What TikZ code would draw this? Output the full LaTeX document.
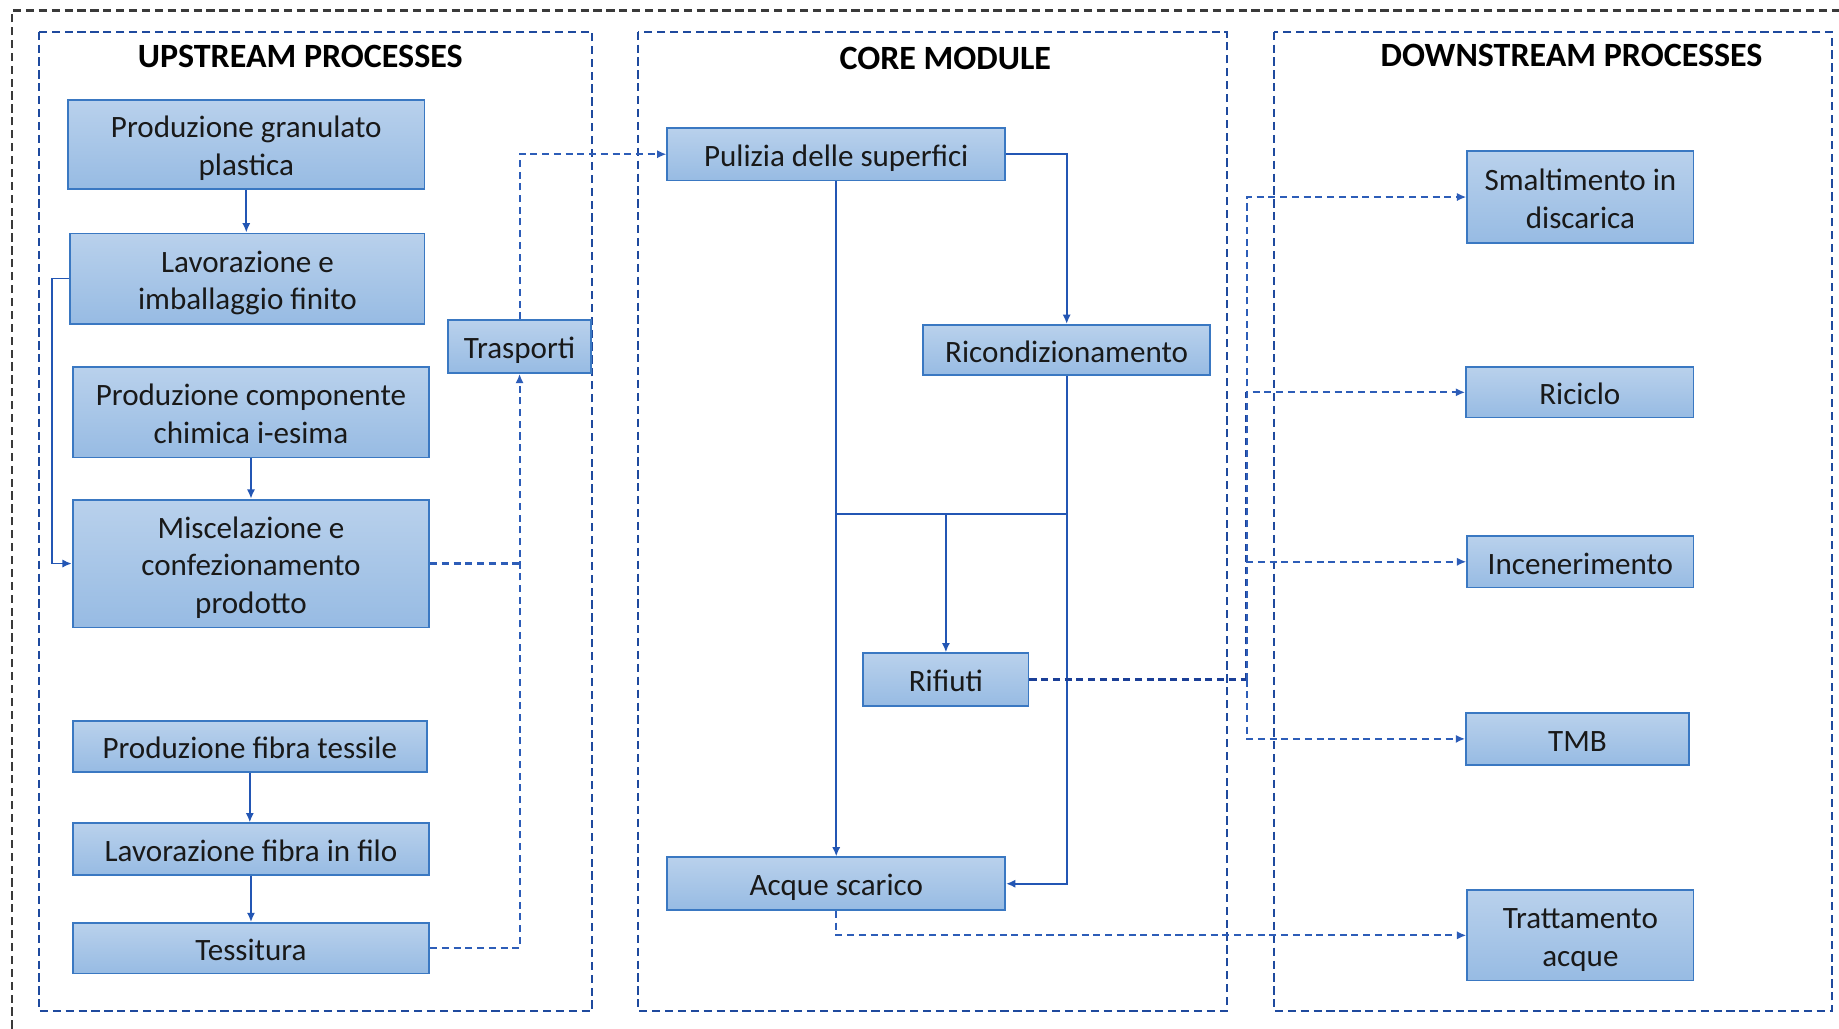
\documentclass[tikz,border=0pt]{standalone}
\usepackage{fontspec}
\setmainfont{Carlito}
\usetikzlibrary{arrows.meta}
\definecolor{boxtop}{HTML}{B9D1EC}
\definecolor{boxbot}{HTML}{97BBE3}
\definecolor{boxline}{HTML}{3A78C2}
\definecolor{lineblue}{HTML}{2356B4}
\definecolor{frameblue}{HTML}{1F4A9E}
\definecolor{dashblue}{HTML}{2D5DB8}
\definecolor{darkdash}{HTML}{1B3F97}
\definecolor{outergray}{HTML}{3A3A3A}
\newcommand\topstrut{\rule{0pt}{30.5pt}}
\newcommand\botstrut{\rule[-9.6pt]{0pt}{9.6pt}}
\begin{document}
\begin{tikzpicture}[x=1pt,y=-1pt,
  proc/.style={draw=boxline, line width=1.5pt, top color=boxtop, bottom color=boxbot,
    inner sep=0pt, align=center, text=black!90, font=\fontsize{26.5}{32}\selectfont,
    execute at begin node=\topstrut, execute at end node=\botstrut},
  ttl/.style={font=\fontsize{29}{34}\selectfont\bfseries, text=black},
  frame/.style={draw=frameblue, line width=1.8pt, dash pattern=on 7pt off 4pt},
  outerframe/.style={draw=outergray, line width=1.8pt, dash pattern=on 7pt off 4pt},
  conn/.style={draw=lineblue, line width=1.6pt},
  dconn/.style={draw=dashblue, line width=1.8pt, dash pattern=on 6pt off 4pt},
  arr/.style={-{Latex[length=8pt,width=7pt]}}
]
\useasboundingbox (0,0) rectangle (1568,877);
\fill[white] (0,0) rectangle (1568,877);

% frames
\draw[outerframe] (10,877) -- (10,9) -- (1568,9);
\draw[frame] (33,27) rectangle (505,862);
\draw[frame] (544,27) rectangle (1046,862);
\draw[frame] (1086,27) rectangle (1562,862);

\node[ttl] (t1) at (256,48) {UPSTREAM PROCESSES};
\node[ttl] (t2) at (806,50) {CORE MODULE};
\node[ttl] (t3) at (1340,47) {DOWNSTREAM PROCESSES};

% upstream
\node[proc, minimum width=304, minimum height=76] (pg) at (210,123) {\topstrut Produzione granulato\\plastica\botstrut};
\node[proc, minimum width=302, minimum height=77] (li) at (211,237.5) {\topstrut Lavorazione e\\imballaggio finito\botstrut};
\node[proc, minimum width=304, minimum height=77] (pc) at (214,351.5) {\topstrut Produzione componente\\chimica i-esima\botstrut};
\node[proc, minimum width=304, minimum height=109] (mc) at (214,480.5) {\topstrut Miscelazione e\\confezionamento\\prodotto\botstrut};
\node[proc, minimum width=302, minimum height=43] (pf) at (213,636.5) {Produzione fibra tessile};
\node[proc, minimum width=304, minimum height=44] (lf) at (214,724) {Lavorazione fibra in filo};
\node[proc, minimum width=304, minimum height=43] (te) at (214,808.5) {Tessitura};
\node[proc, minimum width=122, minimum height=45] (tr) at (443,295.5) {Trasporti};

% core
\node[proc, minimum width=288, minimum height=45] (pu) at (713,131.5) {Pulizia delle superfici};
\node[proc, minimum width=245, minimum height=43] (ri) at (909.5,298.5) {Ricondizionamento};
\node[proc, minimum width=141, minimum height=45] (rf) at (806.5,579.5) {Rifiuti};
\node[proc, minimum width=288, minimum height=45] (ac) at (713,753.5) {Acque scarico};

% downstream
\node[proc, minimum width=193, minimum height=78] (sm) at (1347.5,168) {\topstrut Smaltimento in\\discarica\botstrut};
\node[proc, minimum width=194, minimum height=43] (rc) at (1347,334.5) {Riciclo};
\node[proc, minimum width=193, minimum height=44] (ic) at (1347.5,479) {Incenerimento};
\node[proc, minimum width=190, minimum height=44] (tmb) at (1345,630) {TMB};
\node[proc, minimum width=193, minimum height=77] (tra) at (1347.5,797.5) {\topstrut Trattamento\\acque\botstrut};

% solid connectors
\draw[conn,arr] (pg.south) -- (pg.south |- li.north);
\draw[conn,arr] (li.west) -- ++(-15,0) |- (mc.west);
\draw[conn,arr] (pc.south) -- (mc.north);
\draw[conn,arr] (pf.south) -- (pf.south |- lf.north);
\draw[conn,arr] (lf.south) -- (te.north);
\draw[conn,arr] (pu.east) -| (ri.north);
\draw[conn,arr] (pu.south) -- (ac.north);
\coordinate (j1) at (713,438);
\coordinate (j2) at (909.5,438);
\draw[conn,arr] (j1) -| (rf.north);
\draw[conn] (j2) -- (j2 -| rf.north);
\draw[conn,arr] (ri.south) |- (ac.east);

% dashed connectors
\draw[dconn,arr] (te.east) -| (tr.south);
\draw[dconn] (mc.east) -- (mc.east -| tr.south);
\draw[dconn,arr] (tr.north) |- (pu.west);
\coordinate (bus) at (1063,579.5);
\draw[dconn, draw=darkdash, line width=2.6pt] (rf.east) -- (bus);
\draw[dconn, draw=darkdash, line width=2.4pt] (bus) -- (bus |- rc.west);
\draw[dconn,arr] (bus) |- (sm.west);
\draw[dconn,arr] (bus) |- (rc.west);
\draw[dconn,arr] (bus) |- (ic.west);
\draw[dconn,arr] (bus) |- (tmb.west);
\draw[dconn,arr] (ac.south) |- (tra.west);
\end{tikzpicture}
\end{document}
